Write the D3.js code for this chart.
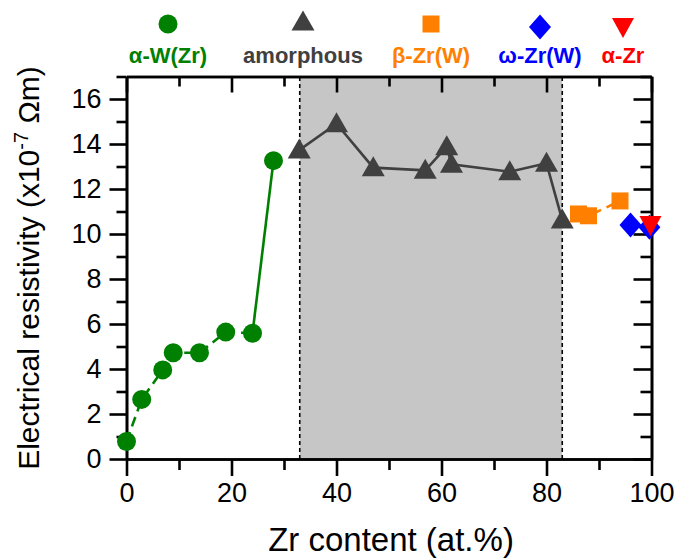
<!DOCTYPE html>
<html>
<head>
<meta charset="utf-8">
<script src="https://cdn.jsdelivr.net/npm/d3@7"></script>
<style>
  html, body { margin: 0; padding: 0; background: #fff; }
  svg { display: block; font-family: "Liberation Sans", Arial, sans-serif; }
</style>
</head>
<body>
<svg id="chart" width="677" height="560"></svg>
<script>
// Zr content (at.%) and electrical resistivity (x10^-7 Ohm m) per phase
const alphaWX = [0, 2.9, 6.9, 8.9, 13.9, 18.9, 24.0, 28.0];
const alphaWY = [0.78, 2.65, 3.96, 4.72, 4.72, 5.64, 5.59, 13.26];

const amorphX = [32.9, 40.0, 47.0, 56.9, 61.0, 61.9, 73.0, 80.0, 83.0];
const amorphY = [13.73, 14.9, 12.95, 12.83, 13.88, 13.1, 12.77, 13.14, 10.62];

const betaZrX = [86.1, 88.0, 94.0];
const betaZrY = [10.89, 10.81, 11.47];

const omegaZrX = [96.0, 99.6];
const omegaZrY = [10.4, 10.3];

const alphaZrX = [99.8];
const alphaZrY = [10.4];

// amorphous composition window
const amorphRange = [33, 83];

const xMajorTicks = [0, 20, 40, 60, 80, 100];
const xMinorTicks = [10, 30, 50, 70, 90];
const yMajorTicks = [0, 2, 4, 6, 8, 10, 12, 14, 16];
const yMinorTicks = [1, 3, 5, 7, 9, 11, 13, 15, 17];

const legendLabels = ["α-W(Zr)", "amorphous", "β-Zr(W)", "ω-Zr(W)", "α-Zr"];

const svg = d3.select("#chart");

const x = d3.scaleLinear().domain([0, 100]).range([126.5, 651.5]);
const y = d3.scaleLinear().domain([0, 17]).range([459, 76.5]);

const pts = (xs, ys) => xs.map((v, i) => [v, ys[i]]);

// shaded amorphous band
svg.append("rect")
  .attr("x", x(amorphRange[0]))
  .attr("y", y(17))
  .attr("width", x(amorphRange[1]) - x(amorphRange[0]))
  .attr("height", y(0) - y(17))
  .attr("fill", "#c6c6c6");

svg.selectAll("line.bound").data(amorphRange).join("line")
  .attr("class", "bound")
  .attr("x1", d => x(d)).attr("x2", d => x(d))
  .attr("y1", y(0)).attr("y2", y(17))
  .attr("stroke", "#000").attr("stroke-width", 1.6)
  .attr("stroke-dasharray", "4,3");

// axes
const tickFont = "27px";
function styleAxis(g) {
  g.select(".domain").attr("stroke", "#000").attr("stroke-width", 2.6);
  g.selectAll(".tick line").attr("stroke", "#000").attr("stroke-width", 2.6);
  g.selectAll(".tick text").attr("fill", "#000").style("font-size", tickFont)
    .style("font-family", "'Liberation Sans', Arial, sans-serif");
}

// bottom
svg.append("g").attr("transform", `translate(0,${y(0)})`)
  .call(d3.axisBottom(x).tickValues(xMinorTicks).tickSize(11).tickFormat("").tickSizeOuter(0))
  .call(styleAxis);
svg.append("g").attr("transform", `translate(0,${y(0)})`)
  .call(d3.axisBottom(x).tickValues(xMajorTicks).tickSize(17).tickPadding(7).tickFormat(d3.format("d")).tickSizeOuter(0))
  .call(styleAxis);

// top (inward)
svg.append("g").attr("transform", `translate(0,${y(17)})`)
  .call(d3.axisBottom(x).tickValues(xMinorTicks).tickSize(10).tickFormat("").tickSizeOuter(0))
  .call(styleAxis);
svg.append("g").attr("transform", `translate(0,${y(17)})`)
  .call(d3.axisBottom(x).tickValues(xMajorTicks).tickSize(16).tickFormat("").tickSizeOuter(0))
  .call(styleAxis);

// left
svg.append("g").attr("transform", `translate(${x(0)},0)`)
  .call(d3.axisLeft(y).tickValues(yMinorTicks).tickSize(10).tickFormat("").tickSizeOuter(0))
  .call(styleAxis);
svg.append("g").attr("transform", `translate(${x(0)},0)`)
  .call(d3.axisLeft(y).tickValues(yMajorTicks).tickSize(17).tickPadding(8).tickFormat(d3.format("d")).tickSizeOuter(0))
  .call(styleAxis);

// right (inward)
svg.append("g").attr("transform", `translate(${x(100)},0)`)
  .call(d3.axisLeft(y).tickValues(yMinorTicks).tickSize(11).tickFormat("").tickSizeOuter(0))
  .call(styleAxis);
svg.append("g").attr("transform", `translate(${x(100)},0)`)
  .call(d3.axisLeft(y).tickValues(yMajorTicks).tickSize(18).tickFormat("").tickSizeOuter(0))
  .call(styleAxis);

// axis titles
svg.append("text")
  .attr("x", 391).attr("y", 551)
  .attr("text-anchor", "middle")
  .style("font-size", "33px")
  .text("Zr content (at.%)");

const yTitle = svg.append("text")
  .attr("transform", "translate(39,268) rotate(-90)")
  .attr("text-anchor", "middle")
  .style("font-size", "30px");
yTitle.append("tspan").text("Electrical resistivity (x10");
yTitle.append("tspan").attr("dy", -11).style("font-size", "20px").text("-7");
yTitle.append("tspan").attr("dy", 11).text(" Ωm)");

// connecting lines
const line = d3.line().x(d => x(d[0])).y(d => y(d[1]));
const alphaW = pts(alphaWX, alphaWY);

svg.append("path").datum(alphaW.slice(0, 7))
  .attr("d", line).attr("fill", "none")
  .attr("stroke", "#008000").attr("stroke-width", 2.6)
  .attr("stroke-dasharray", "10,6");
svg.append("path").datum(alphaW.slice(6))
  .attr("d", line).attr("fill", "none")
  .attr("stroke", "#008000").attr("stroke-width", 2.6);

svg.append("path").datum(pts(amorphX, amorphY))
  .attr("d", line).attr("fill", "none")
  .attr("stroke", "#404040").attr("stroke-width", 2.6);

svg.append("path").datum(pts(betaZrX, betaZrY))
  .attr("d", line).attr("fill", "none")
  .attr("stroke", "#ff8000").attr("stroke-width", 2.6)
  .attr("stroke-dasharray", "9,6");

// marker shapes
const shapes = {
  circle: r => `M${-r},0A${r},${r} 0 1,0 ${r},0A${r},${r} 0 1,0 ${-r},0Z`,
  triUp: () => "M0,-11.5L11.5,8.5L-11.5,8.5Z",
  triDown: () => "M0,11L11,-9L-11,-9Z",
  square: () => "M-8.5,-8.5H8.5V8.5H-8.5Z",
  diamond: () => "M0,-12.5L11,0L0,12.5L-11,0Z"
};

const series = [
  { xs: alphaWX, ys: alphaWY, color: "#008000", shape: shapes.circle(9.5) },
  { xs: amorphX, ys: amorphY, color: "#404040", shape: shapes.triUp() },
  { xs: betaZrX, ys: betaZrY, color: "#ff8000", shape: shapes.square() },
  { xs: omegaZrX, ys: omegaZrY, color: "#0000ff", shape: shapes.diamond() },
  { xs: alphaZrX, ys: alphaZrY, color: "#ff0000", shape: shapes.triDown() }
];

series.forEach(s => {
  svg.append("g").selectAll("path").data(pts(s.xs, s.ys)).join("path")
    .attr("transform", d => `translate(${x(d[0])},${y(d[1])})`)
    .attr("d", s.shape)
    .attr("fill", s.color);
});

// legend
const legendX = [168, 303, 431, 540, 623];
const legendMarkY = [24, 22, 24, 27, 27];
const legend = svg.append("g");
series.forEach((s, i) => {
  legend.append("path")
    .attr("transform", `translate(${legendX[i]},${legendMarkY[i]})`)
    .attr("d", s.shape)
    .attr("fill", s.color);
  legend.append("text")
    .attr("x", legendX[i]).attr("y", 63)
    .attr("text-anchor", "middle")
    .attr("fill", s.color)
    .style("font-size", "22px")
    .style("font-weight", "bold")
    .text(legendLabels[i]);
});
</script>
</body>
</html>
